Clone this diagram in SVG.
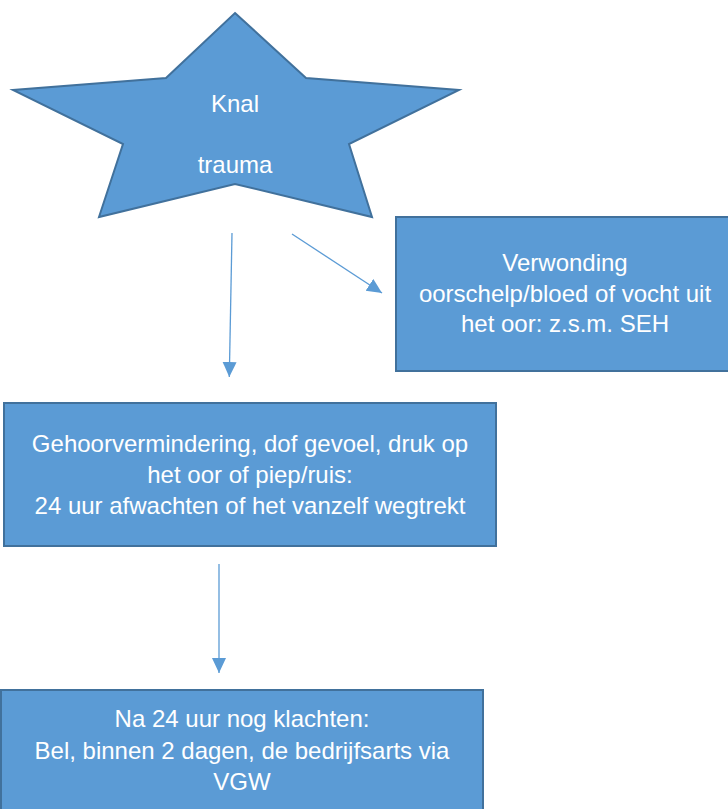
<svg xmlns="http://www.w3.org/2000/svg" width="728" height="809" viewBox="0 0 728 809">
<style>
.shape{fill:#5B9BD5;stroke:#41719C;stroke-width:2}
.lbl{font-family:"Liberation Sans",Arial,sans-serif;font-size:24px;fill:#FFFFFF;text-anchor:middle}
.conn{stroke:#5B9BD5;stroke-width:1.3;fill:none;marker-end:url(#ah)}
</style>
<defs>
<marker id="ah" markerUnits="userSpaceOnUse" markerWidth="16" markerHeight="15" refX="15" refY="7" orient="auto">
<path d="M0,0 L15,7 L0,14 z" fill="#5B9BD5"/>
</marker>
</defs>
<rect width="728" height="809" fill="#FFFFFF"/>
<g id="star">
<polygon class="shape" points="235,13 306,78 459,90 349,144 372,217 235,184 99,217 123,144 13,90 166,78"/>
<text class="lbl" x="235" y="112">Knal</text>
<text class="lbl" x="235" y="173">trauma</text>
</g>
<g id="seh">
<rect class="shape" x="396" y="217" width="340" height="154"/>
<text class="lbl" x="565" y="271">Verwonding</text>
<text class="lbl" x="565" y="302">oorschelp/bloed of vocht uit</text>
<text class="lbl" x="565" y="332">het oor: z.s.m. SEH</text>
</g>
<g id="wacht">
<rect class="shape" x="4" y="403" width="492" height="143"/>
<text class="lbl" x="250" y="452">Gehoorvermindering, dof gevoel, druk op</text>
<text class="lbl" x="250" y="483">het oor of piep/ruis:</text>
<text class="lbl" x="250" y="514">24 uur afwachten of het vanzelf wegtrekt</text>
</g>
<g id="arts">
<rect class="shape" x="1" y="690" width="482" height="130"/>
<text class="lbl" x="242" y="727">Na 24 uur nog klachten:</text>
<text class="lbl" x="242" y="759">Bel, binnen 2 dagen, de bedrijfsarts via</text>
<text class="lbl" x="242" y="790">VGW</text>
</g>
<g id="connectors">
<line class="conn" x1="232" y1="233" x2="229.3" y2="377"/>
<line class="conn" x1="292" y1="234" x2="382" y2="293"/>
<line class="conn" x1="219" y1="564" x2="219" y2="673"/>
</g>
</svg>
